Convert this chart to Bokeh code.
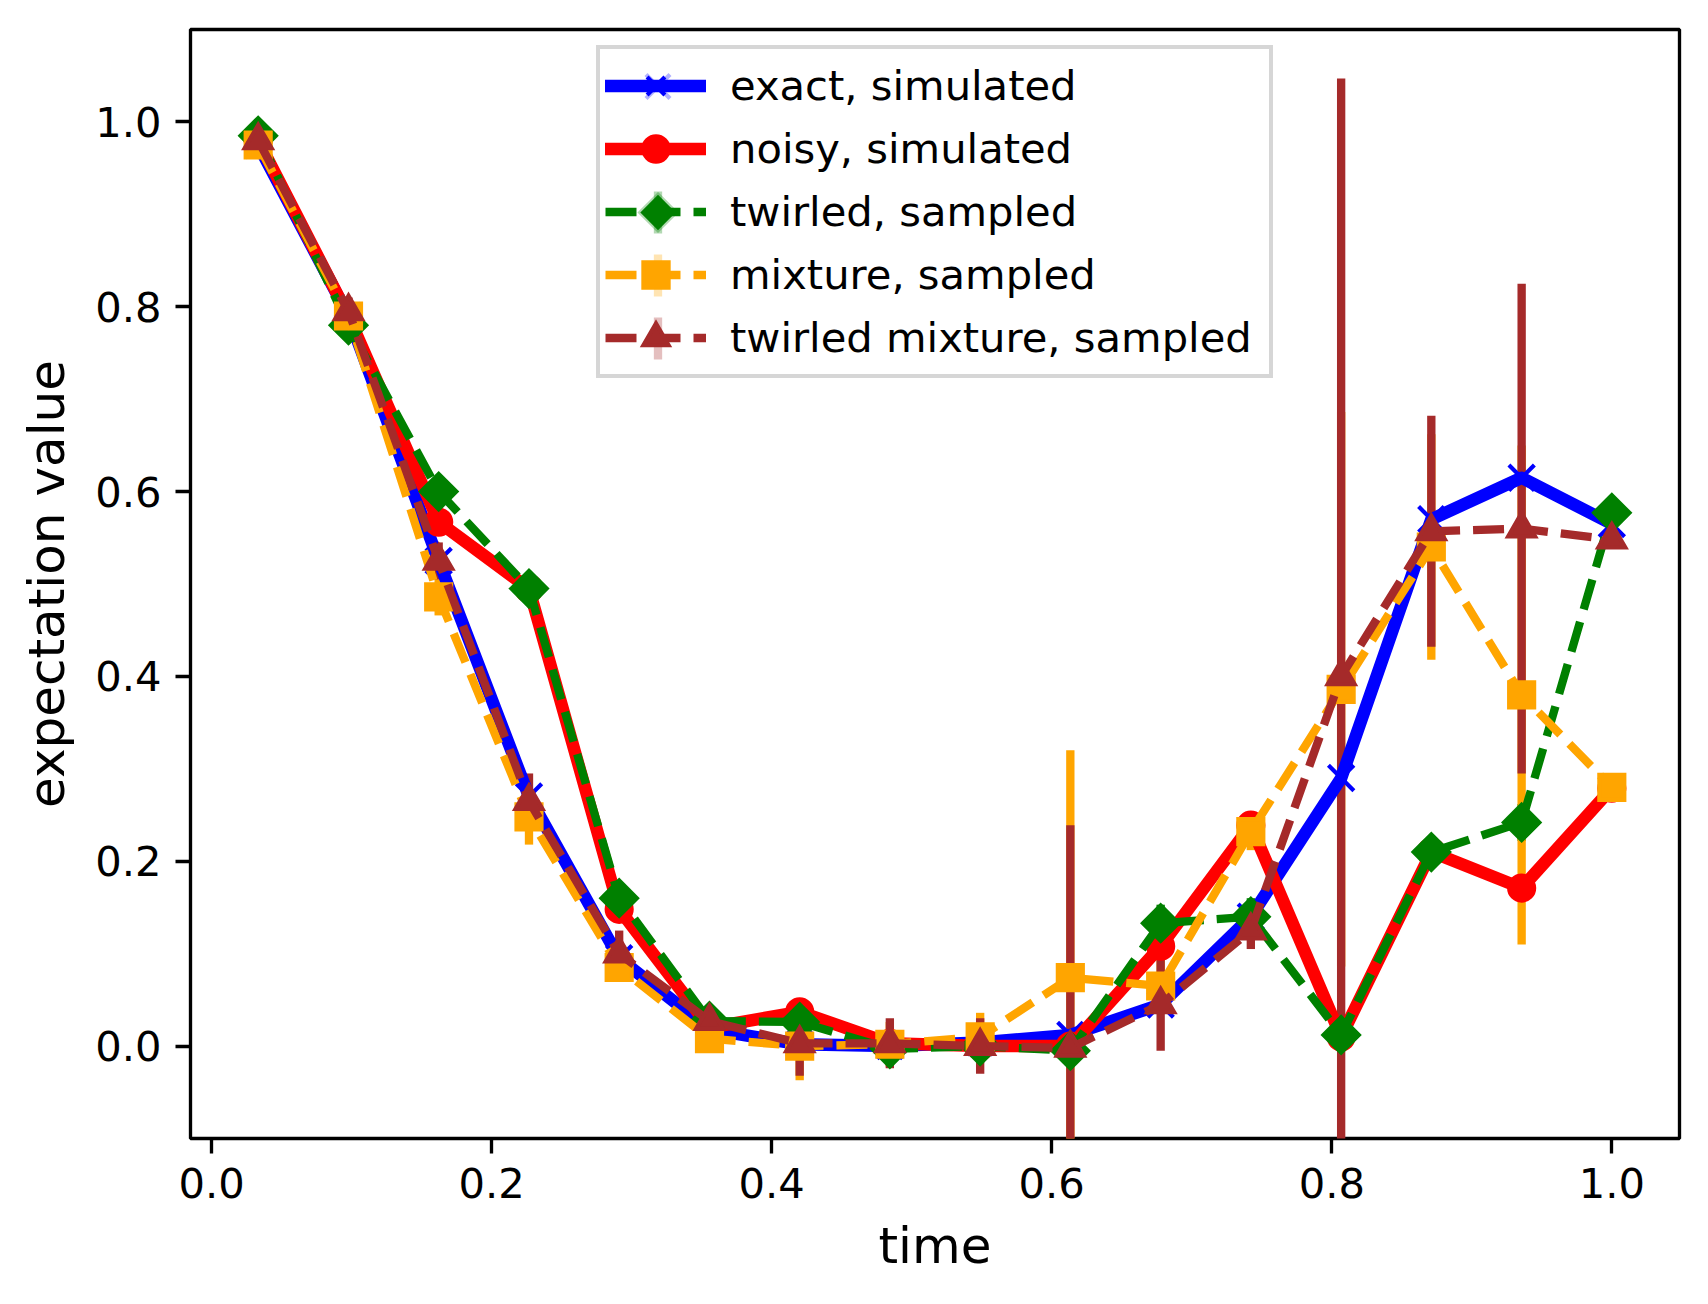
import numpy as np
from bokeh.plotting import figure
from bokeh.models import (ColumnDataSource, Range1d, FixedTicker, PrintfTickFormatter,
                          Legend, LegendItem, PolyAnnotation)
from bokeh.embed import file_html
from bokeh.resources import INLINE

# ---------------- data ----------------
time = [0.0333, 0.0978, 0.1622, 0.2267, 0.2911, 0.3556, 0.4200, 0.4844,
        0.5489, 0.6133, 0.6778, 0.7422, 0.8067, 0.8711, 0.9356, 1.0000]

exact_simulated = [0.975, 0.790, 0.525, 0.270, 0.095, 0.018, 0.002, 0.000,
                   0.004, 0.012, 0.045, 0.140, 0.290, 0.570, 0.615, 0.565]

noisy_simulated = [0.980, 0.790, 0.567, 0.495, 0.148, 0.020, 0.037, 0.003,
                   0.000, 0.000, 0.108, 0.239, 0.010, 0.210, 0.171, 0.279]

twirled_sampled = [0.985, 0.780, 0.600, 0.495, 0.160, 0.027, 0.026, -0.003,
                   0.000, -0.005, 0.133, 0.140, 0.012, 0.210, 0.242, 0.577]
twirled_sampled_err = [0.005, 0.010, 0.015, 0.015, 0.015, 0.010, 0.010, 0.012,
                       0.010, 0.015, 0.020, 0.020, 0.010, 0.015, 0.020, 0.015]

mixture_sampled = [0.975, 0.790, 0.486, 0.248, 0.085, 0.008, 0.000, 0.002,
                   0.010, 0.074, 0.065, 0.232, 0.386, 0.540, 0.380, 0.280]
mixture_sampled_err = [0.010, 0.015, 0.020, 0.030, 0.015, 0.010, 0.037, 0.024,
                       0.026, 0.246, 0.030, 0.020, 0.300, 0.122, 0.270, 0.015]

twirled_mixture_sampled = [0.980, 0.795, 0.525, 0.265, 0.100, 0.027, 0.003, 0.003,
                           0.000, -0.002, 0.045, 0.125, 0.400, 0.557, 0.560, 0.548]
twirled_mixture_sampled_err = [0.010, 0.015, 0.020, 0.030, 0.025, 0.010, 0.035, 0.027,
                               0.030, 0.241, 0.050, 0.020, 0.647, 0.125, 0.265, 0.010]

x_ticks = [0.0, 0.2, 0.4, 0.6, 0.8, 1.0]
y_ticks = [0.0, 0.2, 0.4, 0.6, 0.8, 1.0]

# ---------------- styling ----------------
PT = 300.0 / 72.0
FONT = "DejaVu Sans"
TICK_FS = "%.2fpx" % (10 * PT)
LABEL_FS = "%.2fpx" % (12 * PT)
SOLID_W = 3 * PT
DASH_W = 2 * PT
DASH = "%d %d" % (round(7.4 * PT), round(3.2 * PT))
MS = 6 * PT
MEW = 1 * PT

xmin, xmax = min(time), max(time)
xpad = 0.05 * (xmax - xmin)

p = figure(frame_width=1489, frame_height=1109,
           min_border_left=190, min_border_right=19,
           min_border_top=29, min_border_bottom=156,
           x_range=Range1d(xmin - xpad, xmax + xpad),
           y_range=Range1d(-0.1, 1.1),
           output_backend="svg", toolbar_location=None,
           x_axis_label="time", y_axis_label="expectation value")

p.background_fill_color = "white"
p.border_fill_color = "white"
p.xgrid.visible = False
p.ygrid.visible = False
p.outline_line_color = "black"
p.outline_line_width = 0.8 * PT

p.xaxis.ticker = FixedTicker(ticks=x_ticks)
p.yaxis.ticker = FixedTicker(ticks=y_ticks)
for ax in (p.xaxis, p.yaxis):
    ax.formatter = PrintfTickFormatter(format="%.1f")
    ax.axis_line_color = None
    ax.minor_tick_line_color = None
    ax.major_tick_line_width = 0.8 * PT
    ax.major_tick_line_color = "black"
    ax.major_tick_out = int(round(3.5 * PT))
    ax.major_tick_in = 0
    ax.major_label_standoff = 14
    ax.major_label_text_font = FONT
    ax.major_label_text_font_size = TICK_FS
    ax.major_label_text_color = "black"
    ax.axis_label_text_font = FONT
    ax.axis_label_text_font_size = LABEL_FS
    ax.axis_label_text_font_style = "normal"
    ax.axis_label_text_color = "black"
    ax.axis_label_standoff = 16

# ---------------- error bars (drawn beneath all lines) ----------------
def errbar_source(y, err):
    y = np.asarray(y, dtype=float)
    e = np.asarray(err, dtype=float)
    return ColumnDataSource(dict(x=time, y0=y - e, y1=y + e))

for y, err, col in ((twirled_sampled, twirled_sampled_err, "green"),
                    (mixture_sampled, mixture_sampled_err, "orange"),
                    (twirled_mixture_sampled, twirled_mixture_sampled_err, "brown")):
    p.segment(x0="x", y0="y0", x1="x", y1="y1", source=errbar_source(y, err),
              line_color=col, line_width=DASH_W, line_cap="butt")

# ---------------- series ----------------
items = []

def series(y, col, marker, label, dashed, size=MS, angle=0.0, legend_marker=True):
    src = ColumnDataSource(dict(x=time, y=y))
    if dashed:
        ln = p.line("x", "y", source=src, line_color=col, line_width=DASH_W,
                    line_dash=DASH, line_join="round", line_cap="butt")
    else:
        ln = p.line("x", "y", source=src, line_color=col, line_width=SOLID_W,
                    line_join="round", line_cap="square")
    rends = [ln]
    if marker == "x":
        mk = p.scatter("x", "y", source=src, marker="x", size=size,
                       line_color=col, line_width=MEW)
    else:
        mk = p.scatter("x", "y", source=src, marker=marker, size=size, angle=angle,
                       fill_color=col, line_color=col, line_width=MEW,
                       line_join="miter")
    if legend_marker:
        rends.append(mk)
    items.append(LegendItem(label=label, renderers=rends))

series(exact_simulated, "blue", "x", "exact, simulated", False, size=36)
series(noisy_simulated, "red", "circle", "noisy, simulated", False)
series(twirled_sampled, "green", "square", "twirled, sampled", True,
       angle=np.pi / 4, legend_marker=False)
series(mixture_sampled, "orange", "square", "mixture, sampled", True)
series(twirled_mixture_sampled, "brown", "triangle", "twirled mixture, sampled", True,
       size=MS + 2)

LEG_X, LEG_Y, LEG_PAD, ROW_H, GLYPH_W = 406, 760, 5, 63, 101
legend = Legend(items=items, location=(LEG_X, LEG_Y), margin=0, padding=LEG_PAD,
                glyph_width=GLYPH_W, glyph_height=ROW_H, label_height=ROW_H, spacing=0,
                label_standoff=24, label_width=534,
                label_text_font=FONT, label_text_font_size=TICK_FS,
                label_text_color="black",
                border_line_color="#cccccc", border_line_alpha=0.8,
                border_line_width=1 * PT,
                background_fill_color=None, background_fill_alpha=0.0)
p.add_layout(legend, "center")

# legend symbols that Bokeh cannot draw itself (rotated square, full-size x, error bars)
cx = LEG_X + LEG_PAD + 6 + GLYPH_W / 2.0
def row_cy(i):
    return LEG_Y + LEG_PAD + 3.5 + ROW_H / 2.0 + ROW_H * (4 - i)

def seg(x0, y0, x1, y1, col, w):
    p.add_layout(PolyAnnotation(xs=[x0, x1], ys=[y0, y1],
                                xs_units="screen", ys_units="screen", level="overlay",
                                fill_alpha=0.0, line_color=col, line_width=w,
                                line_join="bevel"))

# error-bar ticks of the sampled series
for i, col in ((2, "green"), (3, "orange"), (4, "brown")):
    cy = row_cy(i)
    seg(cx, cy - 21, cx, cy + 21, col, DASH_W)

d = MS / np.sqrt(2)
cy = row_cy(2)
p.add_layout(PolyAnnotation(xs=[cx, cx + d, cx, cx - d], ys=[cy + d, cy, cy - d, cy],
                            xs_units="screen", ys_units="screen", level="overlay",
                            fill_color="green", fill_alpha=1.0,
                            line_color="green", line_width=MEW, line_join="miter"))
h = 12.0
cy = row_cy(0)
for sgn in (1, -1):
    seg(cx - h, cy - sgn * h, cx + h, cy + sgn * h, "blue", MEW)

open("out.html", "w").write(file_html(p, INLINE))
